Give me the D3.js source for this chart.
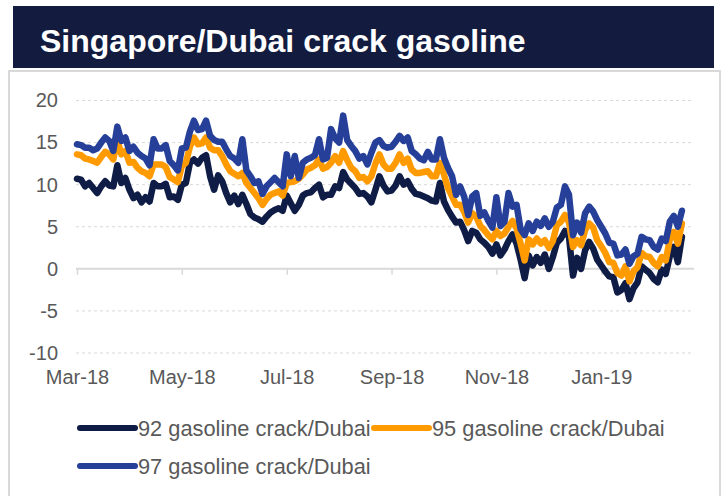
<!DOCTYPE html>
<html>
<head>
<meta charset="utf-8">
<style>
  html, body { margin: 0; padding: 0; background: #fff; }
  svg { display: block; font-family: "Liberation Sans", Arial, sans-serif; }
</style>
</head>
<body>
<svg width="725" height="496"></svg>
<script src="https://d3js.org/d3.v7.min.js"></script>
<script>

  // values, one point per category step
  var gas92 = [10.7, 10.6, 9.8, 10.2, 9.6, 9.0, 9.8, 10.4, 9.9, 9.8,
    12.3, 10.2, 10.8, 9.4, 8.4, 8.8, 7.9, 8.5, 8.0, 10.2,
    9.8, 9.8, 10.1, 8.5, 8.6, 8.2, 10.0, 10.2, 12.6, 13.0,
    12.5, 13.2, 13.5, 11.0, 9.4, 11.1, 10.4, 9.0, 7.9, 8.7,
    7.7, 8.8, 7.7, 6.5, 6.1, 5.9, 5.6, 6.2, 6.7, 7.0,
    7.2, 6.9, 8.7, 7.8, 6.9, 7.6, 8.7, 9.0, 9.1, 9.6,
    10.0, 8.5, 8.8, 8.8, 9.8, 9.6, 11.5, 10.6, 10.1, 9.6,
    8.9, 9.0, 8.6, 7.9, 9.4, 11.0, 9.9, 9.2, 9.3, 9.9,
    11.0, 10.0, 10.4, 9.5, 8.9, 8.8, 8.6, 8.4, 8.1, 8.0,
    10.2, 8.0, 7.0, 6.2, 5.5, 5.6, 4.6, 3.3, 4.5, 4.3,
    3.5, 3.1, 2.6, 1.8, 2.9, 1.6, 2.3, 3.3, 4.1, 3.0,
    1.1, -1.1, 1.6, 0.4, 1.4, 0.7, 1.7, 0.0, 1.4, 3.1,
    3.6, 4.5, 3.8, -0.8, 1.3, 0.0, 2.2, 3.2, 2.4, 1.1,
    0.4, -0.3, -0.9, -1.0, -2.8, -2.5, -1.7, -3.6, -2.3, -1.6,
    0.3, -0.1, -0.5, -1.2, -1.6, -0.1, -0.6, 1.5, 2.6, 0.8,
    3.8];

  var gas95 = [13.6, 13.5, 13.1, 13.0, 12.8, 12.6, 13.3, 13.9, 13.6, 13.0,
    15.3, 13.6, 14.0, 12.6, 12.7, 12.0, 11.6, 11.4, 11.0, 12.4,
    12.4, 12.4, 12.1, 10.9, 10.6, 10.3, 12.2, 12.6, 14.5, 15.6,
    14.8, 14.9, 15.6, 14.4, 14.1, 14.1, 13.4, 12.4, 11.6, 11.3,
    11.0, 11.4, 10.2, 9.6, 9.0, 8.4, 7.6, 8.3, 8.8, 9.0,
    9.2, 8.7, 10.2, 10.3, 10.4, 10.7, 11.2, 11.8, 12.0, 12.3,
    13.0, 11.9, 12.1, 12.6, 13.4, 12.6, 14.0, 12.9, 12.0, 11.6,
    10.8, 10.9, 10.4, 11.0, 12.5, 13.6, 12.4, 11.9, 11.9, 12.6,
    13.6, 12.6, 13.1, 11.8, 11.4, 11.4, 11.5, 11.6, 11.0, 11.0,
    12.6, 11.2, 9.6, 8.6, 7.6, 7.6, 6.8, 5.5, 6.6, 6.2,
    5.1, 4.6, 4.0, 3.5, 4.5, 3.9, 4.2, 5.0, 5.7, 4.8,
    3.0, 1.0, 3.5, 2.9, 3.6, 3.0, 3.4, 2.5, 3.3, 5.2,
    5.6, 6.4, 5.5, 2.6, 3.4, 2.8, 4.6, 5.4, 4.9, 3.4,
    2.7, 1.9, 0.8, 0.7, -0.5, -0.8, 0.3, -1.5, -0.3, 0.2,
    1.9, 1.5, 1.4, 0.7, 0.3, 1.4, 1.0, 3.5, 4.4, 3.0,
    5.4];

  var gas97 = [14.8, 14.7, 14.4, 14.4, 14.1, 14.3, 15.0, 15.6, 15.2, 14.0,
    16.9, 15.2, 15.6, 14.0, 14.5, 13.8, 13.4, 13.1, 12.3, 15.4,
    14.3, 14.3, 14.7, 12.8, 12.3, 11.7, 14.3, 14.4, 16.3, 17.6,
    16.5, 16.6, 17.6, 15.8, 15.3, 15.1, 15.1, 14.2, 13.4, 13.1,
    12.6, 15.4, 11.7, 11.0, 10.2, 10.4, 8.9, 9.8, 10.3, 10.8,
    10.3, 9.8, 13.6, 11.0, 13.4, 10.8, 12.6, 13.0, 13.2, 13.5,
    15.4, 13.0, 13.2, 16.6, 15.5, 15.0, 18.2, 15.3, 14.6, 14.0,
    13.1, 13.4, 12.4, 13.8, 15.0, 15.3, 14.6, 14.4, 14.5, 15.1,
    15.8, 15.2, 15.6, 14.0, 13.6, 13.1, 12.9, 13.9, 13.0, 13.0,
    15.4, 13.2, 12.0, 11.0, 8.8, 9.8, 8.6, 6.4, 8.6, 9.0,
    6.3, 6.7, 5.7, 4.9, 8.5, 5.1, 5.6, 9.0, 7.4, 7.6,
    4.7, 4.0, 5.4, 4.5, 5.6, 5.1, 6.0, 5.0, 5.6, 7.3,
    7.6, 9.8, 8.8, 4.0, 5.5, 4.3, 6.6, 7.4, 6.8, 5.8,
    5.0, 4.2, 3.1, 3.0, 1.6, 1.7, 2.3, 0.6, 1.5, 1.8,
    3.8, 3.5, 3.4, 2.6, 2.3, 3.6, 3.3, 5.6, 6.3, 5.0,
    6.9];

  var seriesNames = ["92 gasoline crack/Dubai", "95 gasoline crack/Dubai", "97 gasoline crack/Dubai"];
  var seriesColors = ["#0f1c45", "#ff9b00", "#26409a"];
  var yTicks = [20, 15, 10, 5, 0, -5, -10];
  var xTickLabels = ["Mar-18", "May-18", "Jul-18", "Sep-18", "Nov-18", "Jan-19"];
  var labelEvery = 26;   // categories between two date labels
  var slots = 153;       // category slots on the axis

  var series = [gas92, gas95, gas97];

  var svg = d3.select("svg");

  // title banner and frame
  svg.append("rect")
    .attr("x", 9).attr("y", 71)
    .attr("width", 711).attr("height", 440)
    .attr("fill", "#fff")
    .attr("stroke", "#d9d9d9")
    .attr("stroke-width", 2);

  svg.append("rect")
    .attr("x", 13).attr("y", 6)
    .attr("width", 701).attr("height", 62)
    .attr("fill", "#131c3f");

  svg.append("text")
    .attr("x", 40).attr("y", 52)
    .attr("fill", "#fff")
    .attr("font-size", 32)
    .attr("font-weight", "bold")
    .text("Singapore/Dubai crack gasoline");

  var x = d3.scaleLinear()
    .domain([0, slots])
    .range([77, 694]);

  var y = d3.scaleLinear()
    .domain([-10, 20])
    .range([353, 100.5]);

  // dashed gridlines
  svg.append("g")
    .selectAll("line")
    .data(yTicks.filter(function (d) { return d !== 0; }))
    .join("line")
    .attr("x1", x(0) - 1).attr("x2", x(slots))
    .attr("y1", function (d) { return y(d); })
    .attr("y2", function (d) { return y(d); })
    .attr("stroke", "#d9d9d9")
    .attr("stroke-width", 1)
    .attr("stroke-dasharray", "3,3");

  // y labels (plain hyphen for negatives, as in the original)
  var yAxis = svg.append("g")
    .attr("transform", "translate(60,0)")
    .call(d3.axisLeft(y).tickValues(yTicks).tickSize(0).tickPadding(2)
      .tickFormat(function (d) { return String(d); }));
  yAxis.select(".domain").remove();
  yAxis.selectAll("text")
    .attr("font-size", 20)
    .attr("font-family", "Liberation Sans, Arial, sans-serif")
    .attr("fill", "#595959");

  // zero axis with tick marks
  var tickIdx = xTickLabels.map(function (d, i) { return i * labelEvery; });
  var zeroAxis = svg.append("g")
    .attr("transform", "translate(0," + y(0) + ")")
    .call(d3.axisBottom(x).tickValues(tickIdx).tickSize(6).tickSizeOuter(0).tickFormat(""));
  zeroAxis.select(".domain")
    .attr("d", "M" + (x(0) - 1) + ",0H" + x(slots))
    .attr("stroke", "#d9d9d9")
    .attr("stroke-width", 2);
  zeroAxis.selectAll(".tick line")
    .attr("stroke", "#d9d9d9")
    .attr("stroke-width", 1.5);

  // date labels sit at the bottom
  var xAxis = svg.append("g")
    .attr("transform", "translate(0,367)")
    .call(d3.axisBottom(x).tickValues(tickIdx).tickSize(0)
      .tickFormat(function (d, i) { return xTickLabels[i]; }));
  xAxis.select(".domain").remove();
  xAxis.selectAll("text")
    .attr("font-size", 20)
    .attr("font-family", "Liberation Sans, Arial, sans-serif")
    .attr("fill", "#595959");

  var line = d3.line()
    .x(function (d, i) { return x(i); })
    .y(function (d) { return y(d); });

  svg.append("g")
    .selectAll("path")
    .data(series)
    .join("path")
    .attr("d", line)
    .attr("fill", "none")
    .attr("stroke", function (d, i) { return seriesColors[i]; })
    .attr("stroke-width", 6.5)
    .attr("stroke-linejoin", "round")
    .attr("stroke-linecap", "round");

  // legend
  var legendPos = [[80, 428], [374, 428], [80, 466]];
  var legend = svg.append("g")
    .selectAll("g")
    .data(seriesNames)
    .join("g")
    .attr("transform", function (d, i) { return "translate(" + legendPos[i][0] + "," + legendPos[i][1] + ")"; });

  legend.append("line")
    .attr("x1", 0).attr("x2", 55)
    .attr("stroke", function (d, i) { return seriesColors[i]; })
    .attr("stroke-width", 6)
    .attr("stroke-linecap", "round");

  legend.append("text")
    .attr("x", 58).attr("dy", "0.35em")
    .attr("font-size", 21.8)
    .attr("fill", "#595959")
    .text(function (d) { return d; });

</script>
</body>
</html>
